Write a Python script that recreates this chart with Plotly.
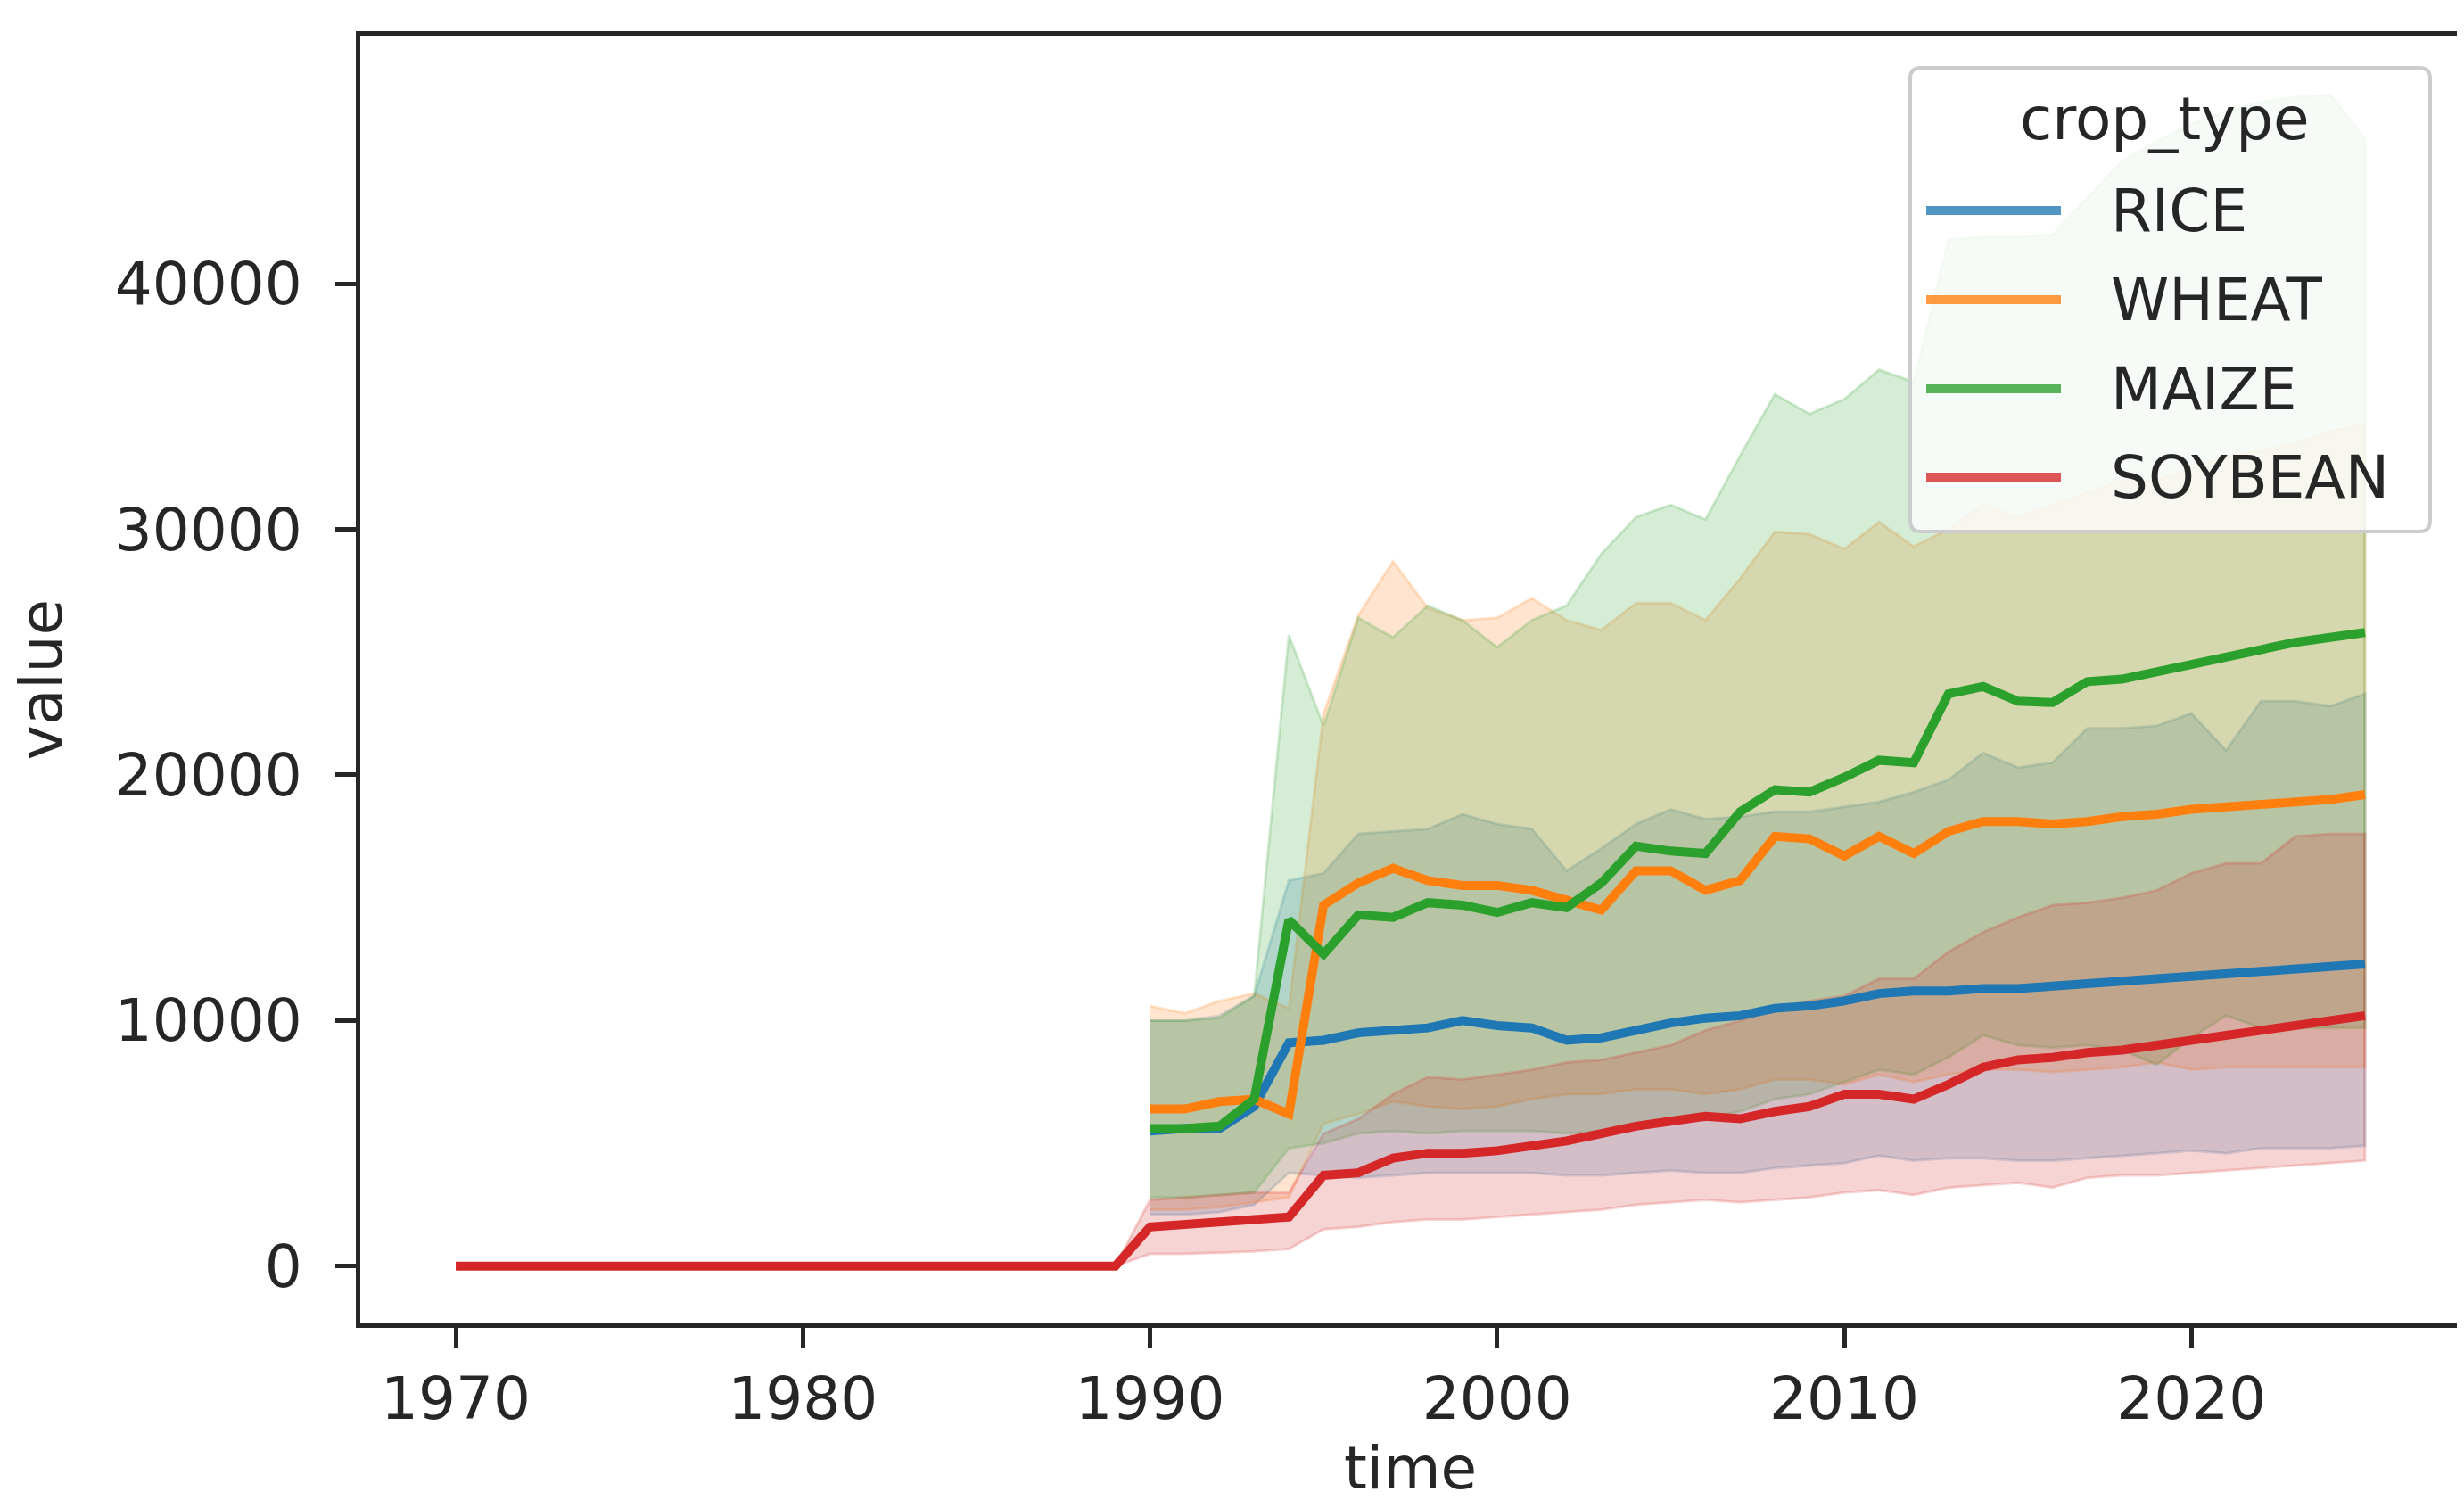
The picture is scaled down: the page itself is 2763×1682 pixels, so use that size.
import plotly.graph_objects as go

# ---------------- data ----------------
years = list(range(1990, 2026))
early_years = list(range(1970, 1990))

rice_mean = [5500, 5600, 5600, 6500, 9100, 9200, 9500, 9600, 9700, 10000,
             9800, 9700, 9200, 9300, 9600, 9900, 10100, 10200, 10500, 10600,
             10800, 11100, 11200, 11200, 11300, 11300, 11400, 11500, 11600, 11700,
             11800, 11900, 12000, 12100, 12200, 12300]
rice_lo = [2100, 2100, 2200, 2500, 3800, 3700, 3600, 3700, 3800, 3800,
           3800, 3800, 3700, 3700, 3800, 3900, 3800, 3800, 4000, 4100,
           4200, 4500, 4300, 4400, 4400, 4300, 4300, 4400, 4500, 4600,
           4700, 4600, 4800, 4800, 4800, 4900]
rice_hi = [10000, 10000, 10200, 11000, 15700, 16000, 17600, 17700, 17800, 18400,
           18000, 17800, 16100, 17000, 18000, 18600, 18200, 18300, 18500, 18500,
           18700, 18900, 19300, 19800, 20900, 20300, 20500, 21900, 21900, 22000,
           22500, 21000, 23000, 23000, 22800, 23300]

wheat_mean = [6400, 6400, 6700, 6800, 6200, 14700, 15600, 16200, 15700, 15500,
              15500, 15300, 14900, 14500, 16100, 16100, 15300, 15700, 17500, 17400,
              16700, 17500, 16800, 17700, 18100, 18100, 18000, 18100, 18300, 18400,
              18600, 18700, 18800, 18900, 19000, 19200]
wheat_lo = [2300, 2300, 2400, 2600, 2800, 5800, 6200, 6700, 6500, 6400,
            6500, 6800, 7000, 7000, 7200, 7200, 7000, 7200, 7600, 7600,
            7400, 7800, 7500, 7800, 8000, 8000, 7900, 8000, 8100, 8300,
            8000, 8100, 8100, 8100, 8100, 8100]
wheat_hi = [10600, 10300, 10800, 11100, 10500, 22500, 26500, 28700, 26800, 26300,
            26400, 27200, 26300, 25900, 27000, 27000, 26300, 28000, 29900, 29800,
            29200, 30300, 29300, 30000, 31000, 30500, 31000, 31500, 32000, 32000,
            32500, 33000, 33200, 33500, 34000, 34300]

maize_mean = [5600, 5600, 5700, 6800, 14100, 12700, 14300, 14200, 14800, 14700,
              14400, 14800, 14600, 15600, 17100, 16900, 16800, 18500, 19400, 19300,
              19900, 20600, 20500, 23300, 23600, 23000, 22950, 23800, 23900, 24200,
              24500, 24800, 25100, 25400, 25600, 25800]
maize_lo = [2800, 2800, 2900, 3000, 4800, 5000, 5400, 5500, 5400, 5500,
            5500, 5500, 5400, 5500, 5800, 6000, 6000, 6300, 6800, 7000,
            7500, 8000, 7800, 8500, 9400, 9000, 8900, 9000, 8800, 8200,
            9300, 10200, 9700, 9700, 9700, 9700]
maize_hi = [10000, 10000, 10100, 11000, 25700, 22000, 26400, 25600, 26900, 26300,
            25200, 26300, 26900, 29000, 30500, 31000, 30400, 33000, 35500, 34700,
            35300, 36500, 36000, 41800, 41900, 41900, 42000, 43500, 45000, 45800,
            46500, 47000, 47400, 47600, 47700, 45900]

soy_early = [0] * 20
soy_mean = [1600, 1700, 1800, 1900, 2000, 3700, 3800, 4400, 4600, 4600,
            4700, 4900, 5100, 5400, 5700, 5900, 6100, 6000, 6300, 6500,
            7000, 7000, 6800, 7400, 8100, 8400, 8500, 8700, 8800, 9000,
            9200, 9400, 9600, 9800, 10000, 10200]
soy_lo = [500, 500, 550, 600, 700, 1500, 1600, 1800, 1900, 1900,
          2000, 2100, 2200, 2300, 2500, 2600, 2700, 2600, 2700, 2800,
          3000, 3100, 2900, 3200, 3300, 3400, 3200, 3600, 3700, 3700,
          3800, 3900, 4000, 4100, 4200, 4300]
soy_hi = [2700, 2800, 2900, 3000, 3000, 5400, 6000, 7000, 7700, 7600,
          7800, 8000, 8300, 8400, 8700, 9000, 9600, 10000, 10500, 10800,
          11000, 11700, 11700, 12800, 13600, 14200, 14700, 14800, 15000, 15300,
          16000, 16400, 16400, 17500, 17600, 17600]

crops = ["RICE", "WHEAT", "MAIZE", "SOYBEAN"]
colors = ["#1f77b4", "#ff7f0e", "#2ca02c", "#d62728"]
legend_title = "crop_type"
x_ticks = [1970, 1980, 1990, 2000, 2010, 2020]
y_ticks = [0, 10000, 20000, 30000, 40000]

series = {
    "RICE": (years, rice_mean, rice_lo, rice_hi),
    "WHEAT": (years, wheat_mean, wheat_lo, wheat_hi),
    "MAIZE": (years, maize_mean, maize_lo, maize_hi),
    "SOYBEAN": (early_years + years, soy_early + soy_mean,
                soy_early + soy_lo, soy_early + soy_hi),
}


def rgba(hex_color, a):
    h = hex_color.lstrip("#")
    r, g, b = int(h[0:2], 16), int(h[2:4], 16), int(h[4:6], 16)
    return f"rgba({r},{g},{b},{a})"


FONT = "DejaVu Sans"
FS = 66
TXT = "#262626"

# plot-area geometry (pixels)
W, H = 2763, 1682
L, R, T, B = 396, 2751, 32, 1476


def px(xp):
    return (xp - L) / (R - L)


def py(yp):
    return (B - yp) / (B - T)


fig = go.Figure()
# confidence bands first (below all lines, as in matplotlib zorder)
for name, col in zip(crops, colors):
    xs, m, lo, hi = series[name]
    fig.add_trace(go.Scatter(
        x=list(xs) + list(xs)[::-1], y=list(hi) + list(lo)[::-1],
        mode="lines", fill="toself", fillcolor=rgba(col, 0.2),
        line=dict(color=rgba(col, 0.2), width=3),
        showlegend=False, hoverinfo="skip", name=name + " CI",
    ))
# mean lines on top
for name, col in zip(crops, colors):
    xs, m, lo, hi = series[name]
    fig.add_trace(go.Scatter(
        x=xs, y=m, mode="lines", name=name,
        line=dict(color=col, width=10), showlegend=False,
    ))

# ---------------- legend (drawn manually) ----------------
bx0, bx1, by0, by1 = 2134, 2717, 68, 588
rad = 12
rx, ry = rad / (R - L), rad / (B - T)
X0, X1, YT, YB = px(bx0), px(bx1), py(by0), py(by1)
path = (f"M {X0+rx},{YT} L {X1-rx},{YT} Q {X1},{YT} {X1},{YT-ry} "
        f"L {X1},{YB+ry} Q {X1},{YB} {X1-rx},{YB} L {X0+rx},{YB} "
        f"Q {X0},{YB} {X0},{YB+ry} L {X0},{YT-ry} Q {X0},{YT} {X0+rx},{YT} Z")
shapes = [dict(type="path", path=path, xref="paper", yref="paper",
               fillcolor="rgba(255,255,255,0.8)",
               line=dict(color="#cccccc", width=4), layer="above")]
annotations = [dict(text=legend_title, x=px(2419), y=py(125), xref="paper", yref="paper",
                    xanchor="center", yanchor="middle", showarrow=False,
                    font=dict(family=FONT, size=FS, color=TXT))]
item_y = [228, 328, 428, 527]
for name, col, yy in zip(crops, colors, item_y):
    shapes.append(dict(type="line", xref="paper", yref="paper",
                       x0=px(2152), x1=px(2303), y0=py(yy), y1=py(yy),
                       line=dict(color=rgba(col, 0.78), width=10), layer="above"))
    annotations.append(dict(text=name, x=px(2357), y=py(yy), xref="paper", yref="paper",
                            xanchor="left", yanchor="middle", showarrow=False,
                            font=dict(family=FONT, size=FS, color=TXT)))

axis_common = dict(
    showline=True, linecolor=TXT, linewidth=5, mirror=True,
    ticks="outside", ticklen=23, tickwidth=5, tickcolor=TXT,
    showgrid=False, zeroline=False,
    tickfont=dict(family=FONT, size=FS, color=TXT),
)

fig.update_layout(
    width=W, height=H,
    paper_bgcolor="white", plot_bgcolor="white",
    margin=dict(l=L, r=W - R, t=T, b=H - B, autoexpand=False),
    font=dict(family=FONT, size=FS, color=TXT),
    xaxis=dict(range=[1967.25, 2027.75], tickvals=x_ticks,
               ticktext=[str(v) for v in x_ticks],
               title=dict(text="time", font=dict(family=FONT, size=FS, color=TXT), standoff=18),
               **axis_common),
    yaxis=dict(range=[-2330, 50097], tickvals=y_ticks,
               ticktext=[str(v) for v in y_ticks], ticklabelstandoff=24,
               title=dict(text="value", font=dict(family=FONT, size=FS, color=TXT), standoff=40),
               **axis_common),
    shapes=shapes,
    annotations=annotations,
    showlegend=False,
)

fig.write_html("out.html")
